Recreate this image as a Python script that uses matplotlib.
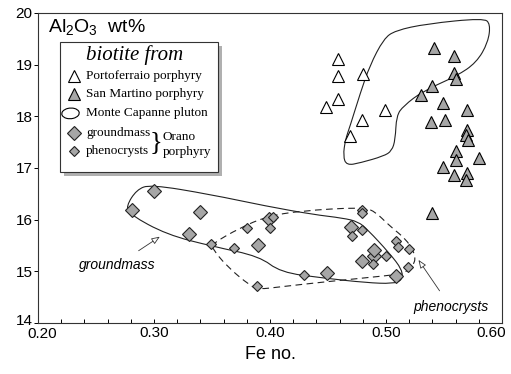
"""Al2O3 vs Fe no. in biotite — scatter with outlines."""
import matplotlib
matplotlib.use("Agg")
import matplotlib.pyplot as plt
from matplotlib.path import Path
from matplotlib.patches import PathPatch, Rectangle, Ellipse
from matplotlib.transforms import ScaledTranslation
import numpy as np

plt.rcParams["font.family"] = ["Liberation Sans", "DejaVu Sans"]
plt.rcParams["mathtext.default"] = "regular"

# Portoferraio porphyry (open triangles)
porto_fe = [0.459, 0.459, 0.480, 0.459, 0.448, 0.499, 0.479, 0.469]
porto_al = [19.10, 18.78, 18.82, 18.33, 18.18, 18.12, 17.92, 17.61]

# San Martino porphyry (grey triangles)
sanm_fe = [0.541, 0.559, 0.559, 0.560, 0.540, 0.530, 0.549, 0.570, 0.539, 0.551,
           0.570, 0.569, 0.571, 0.560, 0.560, 0.580, 0.549, 0.559, 0.570, 0.569, 0.540]
sanm_al = [19.32, 19.17, 18.84, 18.73, 18.58, 18.42, 18.26, 18.13, 17.89, 17.92,
           17.74, 17.64, 17.55, 17.33, 17.16, 17.19, 17.01, 16.87, 16.90, 16.76, 16.13]

# Orano porphyry groundmass (large diamonds)
gm_fe = [0.281, 0.300, 0.330, 0.340, 0.390, 0.399, 0.449, 0.470, 0.479, 0.490, 0.490, 0.509]
gm_al = [16.18, 16.55, 15.73, 16.15, 15.51, 16.01, 14.97, 15.86, 15.19, 15.29, 15.42, 14.90]

# Orano porphyry phenocrysts (small diamonds)
ph_fe = [0.349, 0.369, 0.380, 0.400, 0.403, 0.389, 0.429, 0.479, 0.479, 0.471,
         0.479, 0.509, 0.510, 0.520, 0.500, 0.489, 0.519]
ph_al = [15.53, 15.45, 15.83, 15.83, 16.06, 14.72, 14.93, 16.18, 16.12, 15.69,
         15.79, 15.59, 15.47, 15.43, 15.29, 15.15, 15.09]

# Monte Capanne pluton field
mc_fe = [0.508, 0.535, 0.584, 0.590, 0.588, 0.578, 0.561, 0.532, 0.515, 0.509, 0.508,
         0.505, 0.498, 0.478, 0.466, 0.463, 0.465, 0.469, 0.478, 0.486, 0.498]
mc_al = [19.66, 19.79, 19.90, 19.79, 19.43, 19.04, 18.78, 18.49, 18.20, 18.01, 17.55,
         17.33, 17.23, 17.10, 17.05, 17.23, 17.55, 17.81, 18.46, 18.98, 19.50]

# groundmass field (solid)
gmf_fe = [0.297, 0.348, 0.397, 0.437, 0.463, 0.476, 0.484, 0.503, 0.514, 0.514, 0.506,
          0.483, 0.446, 0.409, 0.391, 0.351, 0.311, 0.279, 0.276, 0.285]
gmf_al = [16.68, 16.49, 16.26, 16.10, 16.03, 15.96, 15.81, 15.35, 15.03, 14.83, 14.76,
          14.78, 14.87, 14.98, 15.29, 15.48, 15.71, 16.10, 16.26, 16.58]

# phenocryst field (dashed)
phf_fe = [0.350, 0.374, 0.397, 0.426, 0.479, 0.490, 0.503, 0.518, 0.526, 0.523, 0.515,
          0.503, 0.449, 0.409, 0.390, 0.383, 0.363, 0.350]
phf_al = [15.53, 15.84, 16.06, 16.17, 16.24, 16.17, 15.88, 15.61, 15.29, 15.09, 14.96,
          14.92, 14.80, 14.70, 14.65, 14.72, 15.09, 15.45]

xticks = [0.20, 0.30, 0.40, 0.50, 0.60]
yticks = [14, 15, 16, 17, 18, 19, 20]

GREY = "#a6a6a6"


def smooth_closed(xs, ys):
    # quadratic bezier through midpoints, control points at vertices
    p = np.column_stack([xs, ys])
    n = len(p)
    mids = (p + np.roll(p, -1, axis=0)) / 2
    verts = [mids[-1]]
    codes = [Path.MOVETO]
    for i in range(n):
        verts += [p[i], mids[i]]
        codes += [Path.CURVE3, Path.CURVE3]
    return Path(verts, codes)


fig = plt.figure(figsize=(5.11, 3.74), dpi=100)
ax = fig.add_axes([0.0744, 0.1364, 0.908, 0.829])

for fx, fy, ls in [(mc_fe, mc_al, "-"), (gmf_fe, gmf_al, "-"), (phf_fe, phf_al, (0, (6, 4)))]:
    ax.add_patch(PathPatch(smooth_closed(fx, fy), fc="none", ec="#222222", lw=0.8, ls=ls))

ax.plot(porto_fe, porto_al, ls="none", marker="^", ms=8.5, mfc="white", mec="k", mew=0.8)
ax.plot(sanm_fe, sanm_al, ls="none", marker="^", ms=8.5, mfc=GREY, mec="k", mew=0.8)
ax.plot(gm_fe, gm_al, ls="none", marker="D", ms=7.5, mfc=GREY, mec="#222222", mew=0.8)
ax.plot(ph_fe, ph_al, ls="none", marker="D", ms=5, mfc=GREY, mec="#222222", mew=0.8)

ax.annotate("groundmass", xy=(0.305, 15.67), xytext=(0.268, 15.12),
            ha="center", va="center", fontsize=10, style="italic",
            arrowprops=dict(arrowstyle="-|>,head_length=0.5,head_width=0.2",
                            fc="white", ec="#333333", lw=0.6, shrinkA=6, shrinkB=0))
ax.annotate("phenocrysts", xy=(0.528, 15.22), xytext=(0.556, 14.30),
            ha="center", va="center", fontsize=10, style="italic",
            arrowprops=dict(arrowstyle="-|>,head_length=0.5,head_width=0.2",
                            fc="white", ec="#333333", lw=0.6, shrinkA=6, shrinkB=0))

ax.set_xlim(0.20, 0.60)
ax.set_ylim(14, 20)
ax.set_xticks(xticks)
ax.set_xticklabels([f"{v:.2f}" for v in xticks])
ax.set_xticks(np.arange(0.20, 0.601, 0.02), minor=True)
ax.set_yticks(yticks)
ax.tick_params(axis="x", which="both", direction="in", length=3, width=0.7, labelsize=11, pad=2)
ax.tick_params(axis="y", which="both", direction="out", length=3, width=0.7, labelsize=11, pad=1)
# first/last labels nudged like in the original so they don't collide
xl = ax.get_xticklabels()
xl[0].set_transform(xl[0].get_transform() + ScaledTranslation(4 / 100, -1 / 100, fig.dpi_scale_trans))
xl[-1].set_transform(xl[-1].get_transform() + ScaledTranslation(-11 / 100, 0, fig.dpi_scale_trans))
yl = ax.get_yticklabels()
yl[0].set_transform(yl[0].get_transform() + ScaledTranslation(0, 3 / 100, fig.dpi_scale_trans))
for s in ax.spines.values():
    s.set_linewidth(0.8)
    s.set_color("#333333")
ax.set_xlabel("Fe no.", fontsize=13, labelpad=4)

ax.text(0.022, 0.94, "Al$_2$O$_3$  wt%", transform=ax.transAxes, fontsize=14,
        ha="left", va="baseline")

# legend box (manual, with shadow)
tr = ax.transAxes
x0, y0, w, h = 0.047, 0.487, 0.341, 0.419
ax.add_patch(Rectangle((x0 + 0.008, y0 - 0.012), w, h, transform=tr, fc="#b0b0b0",
                       ec="none", zorder=5))
ax.add_patch(Rectangle((x0, y0), w, h, transform=tr, fc="white", ec="#333333",
                       lw=0.8, zorder=6))
serif = ["Liberation Serif", "DejaVu Serif"]
ax.text(0.209, 0.863, "biotite from", transform=tr, ha="center", va="center",
        fontsize=15, style="italic", family=serif, zorder=7)
rows = [0.797, 0.739, 0.676, 0.613, 0.555]
mk = dict(transform=tr, ls="none", clip_on=False, zorder=7)
ax.plot([0.0776], [rows[0]], marker="^", ms=8, mfc="white", mec="k", mew=0.8, **mk)
ax.plot([0.0776], [rows[1]], marker="^", ms=8, mfc=GREY, mec="k", mew=0.8, **mk)
ax.add_patch(Ellipse((0.070, rows[2]), 0.038, 0.034, angle=20, transform=tr,
                     fc="none", ec="k", lw=0.8, zorder=7))
ax.plot([0.0776], [rows[3]], marker="D", ms=7.5, mfc=GREY, mec="#222222", mew=0.8, **mk)
ax.plot([0.0776], [rows[4]], marker="D", ms=5, mfc=GREY, mec="#222222", mew=0.8, **mk)
labels = ["Portoferraio porphyry", "San Martino porphyry", "Monte Capanne pluton",
          "groundmass", "phenocrysts"]
for yy, lab in zip(rows, labels):
    ax.text(0.1034, yy, lab, transform=tr, ha="left", va="center", fontsize=9.5,
            family=serif, zorder=7)
ax.text(0.255, 0.584, "}", transform=tr, ha="center", va="center", fontsize=19,
        family=serif, zorder=7)
ax.text(0.269, 0.600, "Orano", transform=tr, ha="left", va="center", fontsize=9.5,
        family=serif, zorder=7)
ax.text(0.269, 0.552, "porphyry", transform=tr, ha="left", va="center", fontsize=9.5,
        family=serif, zorder=7)

fig.savefig("out.png", dpi=100)
